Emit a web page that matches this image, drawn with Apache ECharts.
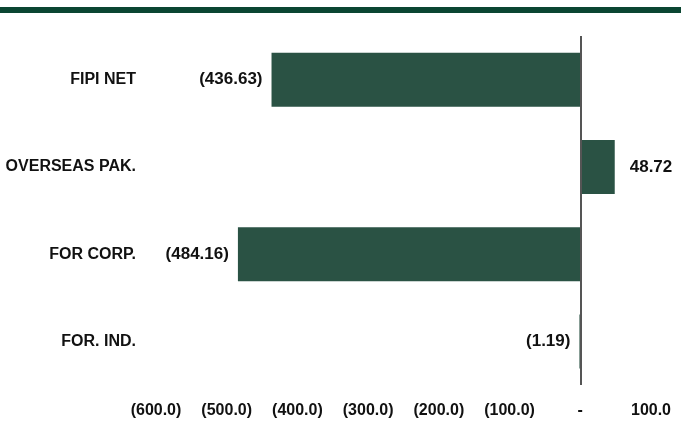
<!DOCTYPE html>
<html>
<head>
<meta charset="utf-8">
<script src="https://cdn.jsdelivr.net/npm/echarts@6/dist/echarts.min.js"></script>
<style>
html,body{margin:0;padding:0;background:#fff;}
#main{width:681px;height:433px;}
</style>
</head>
<body>
<div id="main"></div>
<script>
// data
var categories = ['FIPI NET', 'OVERSEAS PAK.', 'FOR CORP.', 'FOR. IND.'];
var values = [-436.63, 48.72, -484.16, -1.19];
var axisMin = -600, axisMax = 100, axisStep = 100;

function fmtAxis(v){
	if(v == 0) return '-';
	if(v < 0) return '(' + Math.abs(v).toFixed(1) + ')';
	return v.toFixed(1);
}
function fmtVal(v){
	if(v < 0) return '(' + Math.abs(v).toFixed(2) + ')';
	return v.toFixed(2);
}

var chart = echarts.init(document.getElementById('main'));
var txt = {fontFamily:'Liberation Sans, Arial, sans-serif', fontWeight:'bold', fontSize:16, color:'#111'};

var option = {
	animation:false,
	graphic:[{
		type:'rect',
		shape:{x:0, y:7, width:681, height:6},
		style:{fill:'#0b4632'}
	}],
	grid:{left:156, right:30, top:36, bottom:48},
	xAxis:{
		type:'value',
		min:axisMin, max:axisMax, interval:axisStep,
		axisLine:{show:false}, axisTick:{show:false},
		splitLine:{show:false},
		axisLabel:Object.assign({margin:18, formatter:fmtAxis}, txt)
	},
	yAxis:{
		type:'category',
		inverse:true,
		data:categories,
		axisLine:{show:false}, axisTick:{show:false},
		axisLabel:Object.assign({margin:20}, txt)
	},
	series:[{
		type:'bar',
		barWidth:54,
		data:values.map(function(v){
			return {
				value:v,
				label:{position: v < 0 ? 'left' : 'right', distance: v < 0 ? 9 : 15}
			};
		}),
		itemStyle:{color:'#2a5244'},
		label:Object.assign({show:true, formatter:function(p){return fmtVal(p.value);}}, txt, {fontSize:17}),
		markLine:{
			silent:true,
			symbol:'none',
			label:{show:false},
			lineStyle:{color:'#555', width:2, type:'solid'},
			data:[{xAxis:0}]
		}
	}]
};
chart.setOption(option);
</script>
</body>
</html>
